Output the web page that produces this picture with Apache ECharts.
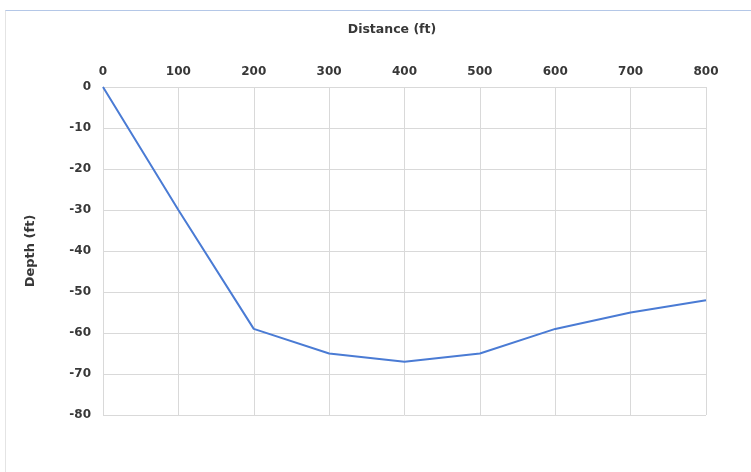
<!DOCTYPE html>
<html>
<head>
<meta charset="utf-8">
<script src="https://cdn.jsdelivr.net/npm/echarts@6/dist/echarts.min.js"></script>
<style>
  html, body { margin: 0; padding: 0; background: #fff; }
  #frame { position: absolute; left: 5px; top: 10px; width: 746px; height: 462px;
           border-top: 1px solid #b4c7e7; border-left: 1px solid #e4e4e4; }
  #chart { position: absolute; left: 0; top: 0; width: 751px; height: 472px; }
</style>
</head>
<body>
<div id="frame"></div>
<div id="chart"></div>
<script>
  const distances = [0, 100, 200, 300, 400, 500, 600, 700, 800];
  const depths = [0, -30, -59, -65, -67, -65, -59, -55, -52];

  const chart = echarts.init(document.getElementById('chart'));
  const gridColor = '#d9d9d9';
  const labelColor = '#383838';
  const font = 'DejaVu Sans';

  const option = {
    animation: false,
    title: {
      text: 'Distance (ft)',
      left: 387,
      top: 18,
      textAlign: 'center',
      textStyle: { fontFamily: font, fontSize: 12.5, fontWeight: 'bold', color: labelColor }
    },
    grid: { left: 103, right: 45, top: 87, bottom: 57 },
    xAxis: {
      type: 'value',
      position: 'top',
      min: 0,
      max: 800,
      interval: 100,
      axisLine: { show: true, lineStyle: { color: gridColor, width: 1 } },
      axisTick: { show: false },
      axisLabel: { margin: 9, fontFamily: font, fontSize: 12, fontWeight: 'bold', color: labelColor },
      splitLine: { show: true, lineStyle: { color: gridColor, width: 1 } }
    },
    yAxis: {
      type: 'value',
      min: -80,
      max: 0,
      interval: 10,
      name: 'Depth (ft)',
      nameLocation: 'middle',
      nameRotate: 90,
      nameGap: 66,
      nameTextStyle: { fontFamily: font, fontSize: 13, fontWeight: 'bold', color: labelColor },
      axisLine: { show: true, lineStyle: { color: gridColor, width: 1 } },
      axisTick: { show: false },
      axisLabel: { margin: 12, fontFamily: font, fontSize: 12, fontWeight: 'bold', color: labelColor },
      splitLine: { show: true, lineStyle: { color: gridColor, width: 1 } }
    },
    series: [
      {
        type: 'line',
        data: distances.map((d, i) => [d, depths[i]]),
        symbol: 'none',
        lineStyle: { color: '#4a7bd4', width: 2 }
      }
    ]
  };

  chart.setOption(option);
</script>
</body>
</html>
